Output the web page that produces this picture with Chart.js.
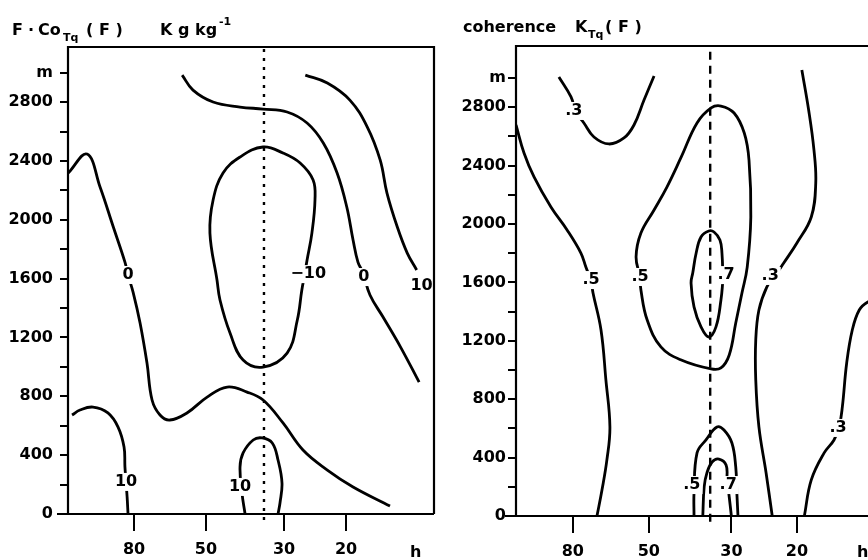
<!DOCTYPE html>
<html>
<head>
<meta charset="utf-8">
<script src="https://cdn.jsdelivr.net/npm/chart.js@4.4.1/dist/chart.umd.min.js"></script>
<style>
  body { margin: 0; background: #fff; width: 868px; height: 560px; overflow: hidden; position: relative; }
  #left { position: absolute; left: 0; top: 0; }
  #right { position: absolute; left: 440px; top: 0; }
</style>
</head>
<body>
<canvas id="left" width="440" height="560"></canvas>
<canvas id="right" width="460" height="560"></canvas>
<script>
// axes: period in hours (log, reversed) and height in m
const periodTicks = [80, 50, 30, 20];
const periodLabels = ['80', '50', '30', '20'];
const heightTicks = [0, 200, 400, 600, 800, 1000, 1200, 1400, 1600, 1800, 2000, 2200, 2400, 2600, 2800, 3000];
const heightLabels = ['0', '', '400', '', '800', '', '1200', '', '1600', '', '2000', '', '2400', '', '2800', 'm'];
const refPeriod = 34.2;

// F * Co_Tq(F) contours, [period h, height m]
const coZeroWest = [[123, 2318], [108.8, 2447], [99.9, 2223], [91.6, 1951], [84.9, 1713], [83.2, 1625], [80.5, 1509], [76.9, 1298], [73.5, 1026], [71.1, 775], [67.5, 673], [63.3, 639], [56.6, 687], [49.6, 795], [43.5, 863], [38.2, 829], [34.4, 775], [30.2, 619], [26.5, 435], [22.6, 299], [19.1, 184], [15.0, 54]];
const coMinus10 = [[26.2, 1630], [26.7, 1523], [27.5, 1319], [29.4, 1094], [34.4, 999], [39.2, 1047], [42.7, 1230], [45.6, 1455], [46.5, 1591], [48.7, 1910], [47.7, 2135], [44.7, 2318], [40.0, 2427], [34.4, 2495], [30.2, 2454], [27.0, 2386], [24.8, 2271], [24.5, 2135], [25.0, 1910], [25.8, 1727], [26.2, 1630]];
const coZeroEast = [[58.4, 2984], [54.4, 2882], [47.7, 2801], [40.0, 2767], [34.4, 2753], [29.4, 2733], [25.8, 2658], [23.2, 2522], [21.2, 2318], [19.9, 2087], [19.1, 1863], [18.5, 1713], [17.9, 1640], [17.1, 1489], [15.7, 1339], [14.0, 1135], [12.4, 897]];
const coTenEast = [[26.1, 2984], [22.6, 2930], [19.5, 2814], [17.4, 2631], [16.0, 2407], [15.3, 2182], [14.3, 1951], [13.4, 1774], [12.6, 1659]];
const coTenWest = [[120, 673], [113.9, 707], [104.6, 727], [94.9, 687], [88.8, 591], [85.4, 455], [84.9, 320], [84.3, 218], [83.7, 116], [83.2, 0]];
const coTenCentre = [[38.7, 0], [39.5, 143], [40.0, 320], [39.2, 415], [36.7, 503], [34.6, 517], [32.4, 483], [31.2, 367], [30.4, 211], [30.8, 75], [31.2, 0]];
const coLabels = [[83.2, 1625, '0'], [25.6, 1631, '\u221210'], [17.8, 1611, '0'], [12.2, 1550, '10'], [84.3, 218, '10'], [40.0, 184, '10']];

// coherence K_Tq(F) contours
const khThreeTop = [[87.2, 3007], [80.9, 2870], [78.5, 2767], [74.7, 2692], [70.2, 2596], [64.0, 2548], [58.3, 2589], [54.8, 2678], [51.5, 2849], [48.4, 3014]];
const khFiveWest = [[113.7, 2678], [108.2, 2486], [101.7, 2322], [91.6, 2116], [82.9, 1959], [76.1, 1801], [73.8, 1705], [71.5, 1610], [70.6, 1527], [67.2, 1274], [65.2, 932], [63.6, 610], [64.8, 384], [66.8, 178], [68.9, 0]];
const khFiveCentre = [[52.8, 1640], [52.5, 1548], [50.5, 1342], [46.4, 1158], [40.9, 1068], [34.0, 1007], [32.0, 1014], [30.4, 1103], [29.2, 1322], [28.1, 1527], [27.2, 1705], [26.6, 2048], [26.9, 2438], [27.7, 2623], [29.5, 2760], [32.0, 2808], [34.0, 2795], [37.1, 2692], [40.9, 2459], [44.7, 2253], [48.4, 2096], [52.5, 1938], [54.1, 1774], [52.8, 1640]];
const khSevenTop = [[31.6, 1620], [32.0, 1479], [33.0, 1295], [34.5, 1226], [36.2, 1295], [37.8, 1432], [38.5, 1596], [38.1, 1664], [37.3, 1801], [36.2, 1911], [34.5, 1952], [33.4, 1945], [32.2, 1890], [31.8, 1801], [31.6, 1620]];
const khThreeEast = [[19.4, 3055], [18.6, 2781], [18.0, 2507], [17.8, 2281], [18.3, 2048], [20.0, 1870], [21.7, 1733], [23.0, 1637], [24.1, 1568], [25.3, 1411], [25.8, 1205], [25.8, 932], [25.3, 610], [24.2, 295], [23.3, 0]];
const khFiveBottom = [[37.8, 0], [37.8, 158], [37.1, 432], [35.1, 521], [32.8, 610], [31.4, 589], [29.9, 500], [29.2, 336], [29.0, 158], [28.8, 0]];
const khSevenBottom = [[35.8, 0], [35.5, 199], [34.9, 295], [33.8, 370], [32.4, 390], [31.0, 349], [30.8, 247], [30.4, 130], [30.0, 0]];
const khThreeFar = [[19.1, 0], [18.3, 247], [16.9, 432], [15.9, 521], [15.4, 610], [15.1, 747], [14.7, 1048], [14.2, 1274], [13.6, 1411], [12.9, 1466], [12.0, 1493]];
const khLabels = [[79.5, 2774, '.3'], [71.5, 1616, '.5'], [52.8, 1637, '.5'], [31.0, 1650, '.7'], [23.6, 1644, '.3'], [38.3, 212, '.5'], [30.6, 212, '.7'], [15.5, 603, '.3']];

const FONT = '"DejaVu Sans", sans-serif';
Chart.defaults.font.family = FONT;
Chart.defaults.font.size = 16;
Chart.defaults.font.weight = 'bold';
Chart.defaults.color = '#000';

const toXY = arr => arr.map(p => ({ x: p[0], y: p[1] }));

const contour = arr => ({
    data: toXY(arr), borderColor: '#000', borderWidth: 2.8,
    pointRadius: 0, tension: 0.4, showLine: true, fill: false,
});

const refLine = (ymax, dash) => ({
    data: toXY([[refPeriod, -40], [refPeriod, ymax]]), borderColor: '#000', borderWidth: 2.4,
    borderDash: dash, pointRadius: 0, showLine: true, clip: false,
});

const refArrow = {
    data: toXY([[refPeriod, -55]]), pointStyle: 'triangle', pointRadius: 4,
    backgroundColor: '#000', borderColor: '#000', showLine: false, clip: false,
};

// labels on the contours, frame, units and title
const decor = {
    id: 'decor',
    afterDatasetsDraw(chart, args, opts) {
        const { ctx, chartArea: a, scales: { x, y } } = chart;
        ctx.save();
        ctx.font = 'bold 16px ' + FONT;
        ctx.textAlign = 'center';
        ctx.textBaseline = 'middle';
        opts.labels.forEach(([p, m, t]) => {
            const px = x.getPixelForValue(p), py = y.getPixelForValue(m);
            const w = ctx.measureText(t).width;
            ctx.fillStyle = '#fff';
            ctx.fillRect(px - w / 2 - 2, py - 9, w + 4, 18);
            ctx.fillStyle = '#000';
            ctx.fillText(t, px, py);
        });

        ctx.strokeStyle = '#000';
        ctx.lineWidth = 2.2;
        ctx.beginPath();
        ctx.moveTo(a.left, a.bottom);
        ctx.lineTo(a.left, a.top);
        ctx.lineTo(a.right, a.top);
        ctx.lineTo(a.right, a.bottom);
        ctx.moveTo(a.left - 11, a.bottom);
        ctx.lineTo(a.right, a.bottom);
        ctx.stroke();

        ctx.textAlign = 'left';
        ctx.textBaseline = 'alphabetic';
        ctx.font = 'bold 16px ' + FONT;
        ctx.fillText('h', opts.hx, 557);

        opts.title.forEach(([t, tx, ty, size]) => {
            ctx.font = 'bold ' + size + 'px ' + FONT;
            ctx.fillText(t, tx, ty);
        });
        ctx.restore();
    }
};

function makeChart(id, sets, labels, cfg) {
    return new Chart(document.getElementById(id), {
        type: 'scatter',
        data: { datasets: sets },
        plugins: [decor],
        options: {
            responsive: false,
            animation: false,
            layout: { padding: { top: cfg.top, right: cfg.right, left: 0, bottom: 0 } },
            plugins: {
                legend: { display: false },
                tooltip: { enabled: false },
                decor: { labels: labels, hx: cfg.hx, title: cfg.title },
            },
            scales: {
                x: {
                    type: 'logarithmic', reverse: true, min: cfg.pmin, max: cfg.pmax,
                    afterBuildTicks: s => { s.ticks = periodTicks.map(v => ({ value: v })); },
                    afterFit: s => { s.height = cfg.xh; },
                    ticks: { callback: (v, i) => periodLabels[i], padding: 9, maxRotation: 0, autoSkip: false },
                    grid: { drawOnChartArea: false, tickLength: 17, color: '#000', lineWidth: 2 },
                    border: { display: false },
                },
                y: {
                    min: 0, max: cfg.ymax,
                    afterBuildTicks: s => { s.ticks = heightTicks.map(v => ({ value: v })); },
                    afterFit: s => { s.width = cfg.yw; },
                    ticks: { callback: (v, i) => heightLabels[i], padding: cfg.ypad, autoSkip: false },
                    grid: { drawOnChartArea: false, tickLength: 8, color: '#000', lineWidth: 2 },
                    border: { display: false },
                },
            },
        },
    });
}

makeChart('left',
    [coZeroWest, coMinus10, coZeroEast, coTenEast, coTenWest, coTenCentre].map(contour)
        .concat([refLine(3175, [3, 6]), refArrow]),
    coLabels,
    {
        top: 47, right: 6, xh: 46, yw: 68, ypad: 7, pmin: 11.25, pmax: 123.2, ymax: 3175, hx: 410,
        title: [['F', 12, 35, 16], ['\u00b7', 28, 35, 16], ['Co', 38, 35, 16], ['Tq', 63, 41, 11],
                ['( F )', 86, 35, 16], ['K g kg', 160, 35, 16], ['-1', 219, 25, 11]],
    });

makeChart('right',
    [khThreeTop, khFiveWest, khFiveCentre, khSevenTop, khThreeEast, khFiveBottom, khSevenBottom, khThreeFar].map(contour)
        .concat([refLine(3219, [8, 6]), refArrow]),
    khLabels,
    {
        top: 46, right: 16, xh: 44, yw: 76, ypad: 2, pmin: 11.67, pmax: 113.7, ymax: 3219, hx: 417,
        title: [['coherence', 23, 32, 16], ['K', 135, 32, 16], ['Tq', 148, 38, 11], ['( F )', 165, 32, 16]],
    });
</script>
</body>
</html>
